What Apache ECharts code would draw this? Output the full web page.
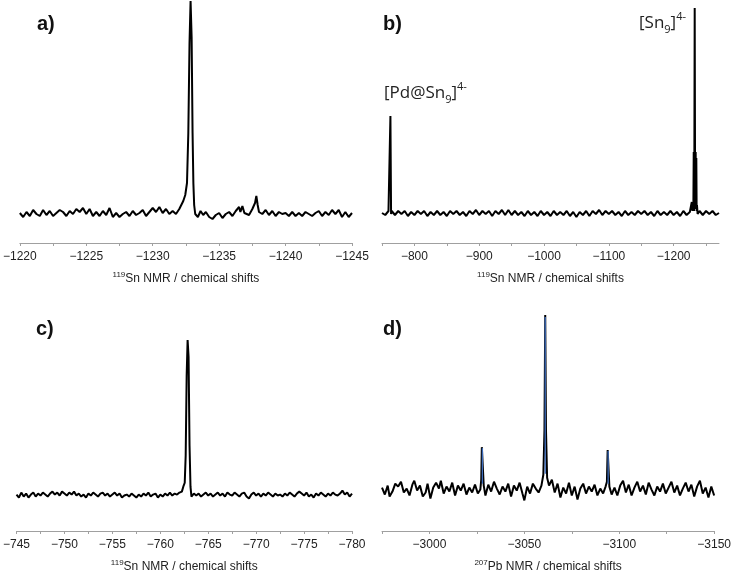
<!DOCTYPE html>
<html>
<head>
<meta charset="utf-8">
<script src="https://cdn.jsdelivr.net/npm/echarts@6/dist/echarts.min.js"></script>
<style>html,body{margin:0;padding:0;background:#fff}#c{width:734px;height:574px}</style>
</head>
<body>
<div id="c"></div>
<script>
// ---- Panel a: 119Sn NMR, [shift ppm, intensity] ----
var specA = [
[-1220,0],[-1220.25,-4],[-1220.5,1],[-1220.75,-3],[-1221,3],[-1221.25,-1],[-1221.5,-3],[-1221.75,3],
[-1222,-2],[-1222.25,2],[-1222.5,-3],[-1222.75,0],[-1223,3],[-1223.25,1],[-1223.5,-3],[-1223.75,2],
[-1224,-1],[-1224.25,4],[-1224.5,1],[-1224.75,5],[-1225,-1],[-1225.25,4],[-1225.5,-3],[-1225.75,1],
[-1226,-3],[-1226.25,2],[-1226.5,-2],[-1226.75,5],[-1227,-4],[-1227.25,0],[-1227.5,-4],[-1227.75,-1],
[-1228,1],[-1228.25,-3],[-1228.5,2],[-1228.75,-2],[-1229,0],[-1229.25,3],[-1229.5,-3],[-1229.75,1],
[-1230,5],[-1230.25,1],[-1230.5,6],[-1230.75,0],[-1231,4],[-1231.25,-1],[-1231.5,2],[-1231.75,-1],
[-1232,4],[-1232.15,6],[-1232.3,12],[-1232.45,18],[-1232.58,30],[-1232.68,80],[-1232.77,170],[-1232.85,212],
[-1232.93,175],[-1233,80],[-1233.06,30],[-1233.12,8],[-1233.2,-1],[-1233.4,-4],[-1233.6,2],[-1233.8,-2],
[-1234,1],[-1234.25,-4],[-1234.5,-6],[-1234.75,-2],[-1235,0],[-1235.25,-5],[-1235.5,-1],[-1235.75,1],
[-1236,-3],[-1236.25,2],[-1236.5,6],[-1236.6,1],[-1236.75,7],[-1236.9,0],[-1237,2],[-1237.25,-2],
[-1237.5,4],[-1237.7,10],[-1237.8,17],[-1237.9,8],[-1238,1],[-1238.25,-1],[-1238.5,3],[-1238.75,-2],
[-1239,2],[-1239.25,-3],[-1239.5,1],[-1239.75,-1],[-1240,0],[-1240.25,-3],[-1240.5,1],[-1240.75,-3],
[-1241,0],[-1241.25,-3],[-1241.5,1],[-1241.75,-1],[-1242,-3],[-1242.25,0],[-1242.5,2],[-1242.75,-3],
[-1243,1],[-1243.25,-2],[-1243.5,3],[-1243.75,-1],[-1244,3],[-1244.25,-4],[-1244.5,1],[-1244.75,-4],[-1245,0]
];
var labelsA = [-1220,-1225,-1230,-1235,-1240,-1245];
var ticksA = [-1220,-1222.5,-1225,-1227.5,-1230,-1232.5,-1235,-1237.5,-1240,-1242.5,-1245];

// ---- Panel b: 119Sn NMR wide range ----
var specB = [
[-750,0],[-755,-2],[-760,2],[-762,1],[-763,97],[-764,-1],[-765,2],[-770,-2],[-775,2],[-780,-1],
[-785,2],[-790,-3],[-795,1],[-800,-2],[-805,2],[-810,-1],[-815,2],[-820,-3],[-825,1],[-830,-2],
[-835,2],[-840,-2],[-845,1],[-850,-3],[-855,2],[-860,-1],[-865,2],[-870,-2],[-875,1],[-880,-3],
[-885,2],[-890,-1],[-895,3],[-900,-2],[-905,2],[-910,-1],[-915,2],[-920,-3],[-925,2],[-930,-1],
[-935,3],[-940,-2],[-945,3],[-950,-2],[-955,2],[-960,-2],[-965,1],[-970,-3],[-975,2],[-980,-2],
[-985,1],[-990,-3],[-995,2],[-1000,-2],[-1005,1],[-1010,-3],[-1015,2],[-1020,-2],[-1025,1],[-1030,-2],
[-1035,2],[-1040,-3],[-1045,1],[-1050,-4],[-1055,1],[-1060,-2],[-1065,2],[-1070,-3],[-1075,2],[-1080,-1],
[-1085,3],[-1090,-2],[-1095,2],[-1100,-1],[-1105,2],[-1110,-2],[-1115,1],[-1120,-3],[-1125,2],[-1130,-2],
[-1135,1],[-1140,-2],[-1145,2],[-1150,-1],[-1155,2],[-1160,-2],[-1165,1],[-1170,-3],[-1175,2],[-1180,-2],
[-1185,1],[-1190,-2],[-1195,2],[-1200,-2],[-1205,1],[-1210,-3],[-1215,2],[-1220,-2],[-1225,1],[-1227,3],
[-1228,11],[-1229,2],[-1230,4],[-1230.5,10],[-1231,61],[-1231.5,2],[-1232,60],[-1232.5,205],[-1233,62],[-1233.5,4],
[-1234,61],[-1234.5,6],[-1235,55],[-1235.5,2],[-1236,8],[-1237,-1],[-1240,2],[-1245,-2],[-1250,2],[-1255,-1],
[-1260,2],[-1265,-2],[-1270,0]
];
var labelsB = [-800,-900,-1000,-1100,-1200];
var ticksB = [-750,-800,-850,-900,-950,-1000,-1050,-1100,-1150,-1200,-1250];

// ---- Panel c: 119Sn NMR ----
var specC = [
[-745,0],[-745.25,-3],[-745.5,2],[-745.75,-2],[-746,1],[-746.25,-3],[-746.5,0],[-746.75,2],[-747,-2],[-747.25,1],
[-747.5,-1],[-747.75,2],[-748,0],[-748.25,-2],[-748.5,1],[-748.75,3],[-749,0],[-749.25,2],[-749.5,-1],[-749.75,3],
[-750,1],[-750.25,-1],[-750.5,2],[-750.75,0],[-751,3],[-751.25,-1],[-751.5,1],[-751.75,-2],[-752,0],[-752.25,-3],
[-752.5,1],[-752.75,-1],[-753,2],[-753.25,0],[-753.5,-2],[-753.75,1],[-754,2],[-754.25,-1],[-754.5,1],[-754.75,-2],
[-755,0],[-755.25,2],[-755.5,-1],[-755.75,1],[-756,-3],[-756.25,-1],[-756.5,0],[-756.75,-2],[-757,1],[-757.25,-1],
[-757.5,-3],[-757.75,0],[-758,-2],[-758.25,1],[-758.5,-1],[-758.75,2],[-759,-2],[-759.25,0],[-759.5,1],[-759.75,-3],
[-760,0],[-760.25,-2],[-760.5,1],[-760.75,-1],[-761,2],[-761.25,-1],[-761.5,1],[-761.75,0],[-762,2],[-762.25,3],
[-762.4,8],[-762.55,12],[-762.65,40],[-762.75,120],[-762.85,157],[-762.95,140],[-763.05,50],[-763.15,8],[-763.25,-2],[-763.5,1],
[-763.75,-1],[-764,1],[-764.25,-2],[-764.5,0],[-764.75,2],[-765,-1],[-765.25,1],[-765.5,-2],[-765.75,0],[-766,2],
[-766.25,-1],[-766.5,1],[-766.75,-2],[-767,2],[-767.25,0],[-767.5,-1],[-767.75,2],[-768,0],[-768.25,-2],[-768.5,1],
[-768.75,2],[-769,-2],[-769.25,-4],[-769.5,0],[-769.75,2],[-770,-1],[-770.25,1],[-770.5,-2],[-770.75,1],[-771,-1],
[-771.25,2],[-771.5,0],[-771.75,-2],[-772,1],[-772.25,-1],[-772.5,0],[-772.75,-2],[-773,1],[-773.25,-1],[-773.5,2],
[-773.75,0],[-774,-2],[-774.25,1],[-774.5,3],[-774.75,1],[-775,-1],[-775.25,2],[-775.5,-2],[-775.75,0],[-776,-3],
[-776.25,1],[-776.5,-1],[-776.75,2],[-777,0],[-777.25,-2],[-777.5,1],[-777.75,-1],[-778,2],[-778.25,0],[-778.5,-1],
[-778.75,1],[-779,4],[-779.25,0],[-779.5,2],[-779.75,-2],[-780,1]
];
var labelsC = [-745,-750,-755,-760,-765,-770,-775,-780];
var ticksC = [-745,-747.5,-750,-752.5,-755,-757.5,-760,-762.5,-765,-767.5,-770,-772.5,-775,-777.5,-780];

// ---- Panel d: 207Pb NMR ----
var specD = [
[-2975,2],[-2976.5,-5],[-2978,4],[-2979,-7],[-2980.5,-2],[-2982,6],[-2983.5,3],[-2985,8],[-2986.5,-3],[-2988,1],
[-2989.5,-6],[-2991,5],[-2992,9],[-2993.5,-1],[-2995,4],[-2996.5,-7],[-2998,-3],[-2999,6],[-3000.5,-9],[-3002,2],
[-3003.5,7],[-3005,1],[-3006,9],[-3007.5,-4],[-3009,3],[-3010.5,-2],[-3012,7],[-3013.5,-6],[-3015,4],[-3016.5,-1],
[-3018,6],[-3019.5,-5],[-3021,2],[-3022.5,-3],[-3024,5],[-3025.5,-4],[-3026.8,0],[-3027.3,10],[-3027.6,43],[-3028.2,43],
[-3028.6,4],[-3029.5,-6],[-3031,5],[-3032.5,-2],[-3034,8],[-3035.5,1],[-3037,-5],[-3038.5,3],[-3040,-2],[-3041.5,6],
[-3043,-7],[-3044.5,4],[-3046,-1],[-3047.5,7],[-3049,-4],[-3050,-11],[-3051.5,3],[-3053,-4],[-3054.5,6],[-3056,1],
[-3057.5,-3],[-3059,4],[-3060,15],[-3060.6,60],[-3061,177],[-3061.4,60],[-3062,12],[-3063,4],[-3064.5,10],[-3066,-3],
[-3067.5,6],[-3069,-8],[-3070.5,2],[-3072,-4],[-3073.5,7],[-3075,-6],[-3076.5,3],[-3078,-10],[-3079.5,1],[-3081,6],
[-3082.5,-4],[-3084,3],[-3085.5,-2],[-3087,5],[-3088.5,-6],[-3090,1],[-3091.5,-4],[-3092.8,3],[-3093.5,8],[-3093.9,40],
[-3094.4,40],[-3094.8,3],[-3096,-5],[-3097.5,2],[-3099,-6],[-3100.5,4],[-3102,9],[-3103.5,-3],[-3105,5],[-3106.5,-6],
[-3108,2],[-3109.5,8],[-3111,-2],[-3112.5,4],[-3114,-5],[-3115.5,7],[-3117,0],[-3118.5,-6],[-3120,3],[-3121.5,-2],
[-3123,6],[-3124.5,-4],[-3126,2],[-3127.5,8],[-3129,-3],[-3130.5,4],[-3132,-6],[-3133.5,1],[-3135,7],[-3136.5,-2],
[-3138,5],[-3139.5,-7],[-3141,3],[-3142.5,9],[-3144,-4],[-3145.5,2],[-3147,-8],[-3148.5,3],[-3150,-6]
];
var peakD1 = [[-3027.9,6],[-3027.9,42]];
var peakD2 = [[-3061,16],[-3061,175]];
var peakD3 = [[-3094.15,6],[-3094.15,39]];
var labelsD = [-3000,-3050,-3100,-3150];
var ticksD = [-2975,-3000,-3025,-3050,-3075,-3100,-3125,-3150];

var chart = echarts.init(document.getElementById('c'), null, {renderer:'canvas'});
function fmt(v){ return v < 0 ? '\u2212' + Math.abs(v) : String(v); }
var nameRich = {
  b:{fontSize:12, fontFamily:'Liberation Sans', color:'#222', lineHeight:16},
  s:{fontSize:8, fontFamily:'Liberation Sans', color:'#222', lineHeight:8, verticalAlign:'top'}
};
function xAx(i, min, max, labels, ticks, nuc){
  return {type:'value', gridIndex:i, inverse:true, min:min, max:max,
    axisLine:{onZero:false, lineStyle:{color:'#a0a0a0', width:1}},
    axisTick:{customValues:ticks, length:3, lineStyle:{color:'#a0a0a0'}},
    axisLabel:{customValues:labels, formatter:fmt, color:'#222', fontSize:12, fontFamily:'Liberation Sans', margin:8},
    splitLine:{show:false},
    name:nuc, nameLocation:'middle', nameGap:28,
    nameTextStyle:{rich:nameRich}
  };
}
function yAx(i, min, max){ return {type:'value', gridIndex:i, min:min, max:max, show:false}; }
function ser(i, data, color, w){
  return {type:'line', xAxisIndex:i, yAxisIndex:i, data:data, showSymbol:false, symbol:'none',
    lineStyle:{color:color, width:w}, animation:false, silent:true, clip:false};
}
var annRich = {
  n:{fontSize:17, fontFamily:'Open Sans', fontWeight:'normal', color:'#222', lineHeight:24},
  sub:{fontSize:11, fontFamily:'Open Sans', fontWeight:'normal', color:'#222', lineHeight:11, verticalAlign:'bottom'},
  sup:{fontSize:11, fontFamily:'Open Sans', fontWeight:'normal', color:'#222', lineHeight:11, verticalAlign:'top'}
};
var lab = {fontSize:20, fontWeight:'bold', fontFamily:'Liberation Sans', color:'#111'};
chart.setOption({
  animation:false,
  grid:[
    {left:16, width:336, top:0, height:243},
    {left:382, width:337, top:0, height:243},
    {left:16, width:336, top:337, height:197},
    {left:382, width:337, top:312, height:222}
  ],
  xAxis:[
    xAx(0,-1245,-1220,labelsA,ticksA,'{s|119}{b|Sn NMR / chemical shifts}'),
    xAx(1,-1270,-750,labelsB,ticksB,'{s|119}{b|Sn NMR / chemical shifts}'),
    xAx(2,-780,-745,labelsC,ticksC,'{s|119}{b|Sn NMR / chemical shifts}'),
    xAx(3,-3150,-2975,labelsD,ticksD,'{s|207}{b|Pb NMR / chemical shifts}')
  ],
  yAxis:[yAx(0,-30,213), yAx(1,-30,213), yAx(2,-37,160), yAx(3,-42,180)],
  title:[
    {text:'a)', left:37, top:14, padding:0, textStyle:lab},
    {text:'b)', left:383, top:14, padding:0, textStyle:lab},
    {text:'c)', left:36, top:319, padding:0, textStyle:lab},
    {text:'d)', left:383, top:319, padding:0, textStyle:lab},
    {text:'{n|[Pd@Sn}{sub|9}{n|]}{sup|4-}', left:384, top:81, padding:0, textStyle:{fontWeight:'normal', rich:annRich}},
    {text:'{n|[Sn}{sub|9}{n|]}{sup|4-}', left:639, top:11, padding:0, textStyle:{fontWeight:'normal', rich:annRich}}
  ],
  series:[
    ser(0,specA,'#000',2),
    ser(1,specB,'#000',2),
    ser(2,specC,'#000',2),
    ser(3,specD,'#000',2),
    ser(3,peakD1,'#3d6dbd',1.3),
    ser(3,peakD2,'#3d6dbd',1.3),
    ser(3,peakD3,'#3d6dbd',1.3)
  ]
});
</script>
</body>
</html>
